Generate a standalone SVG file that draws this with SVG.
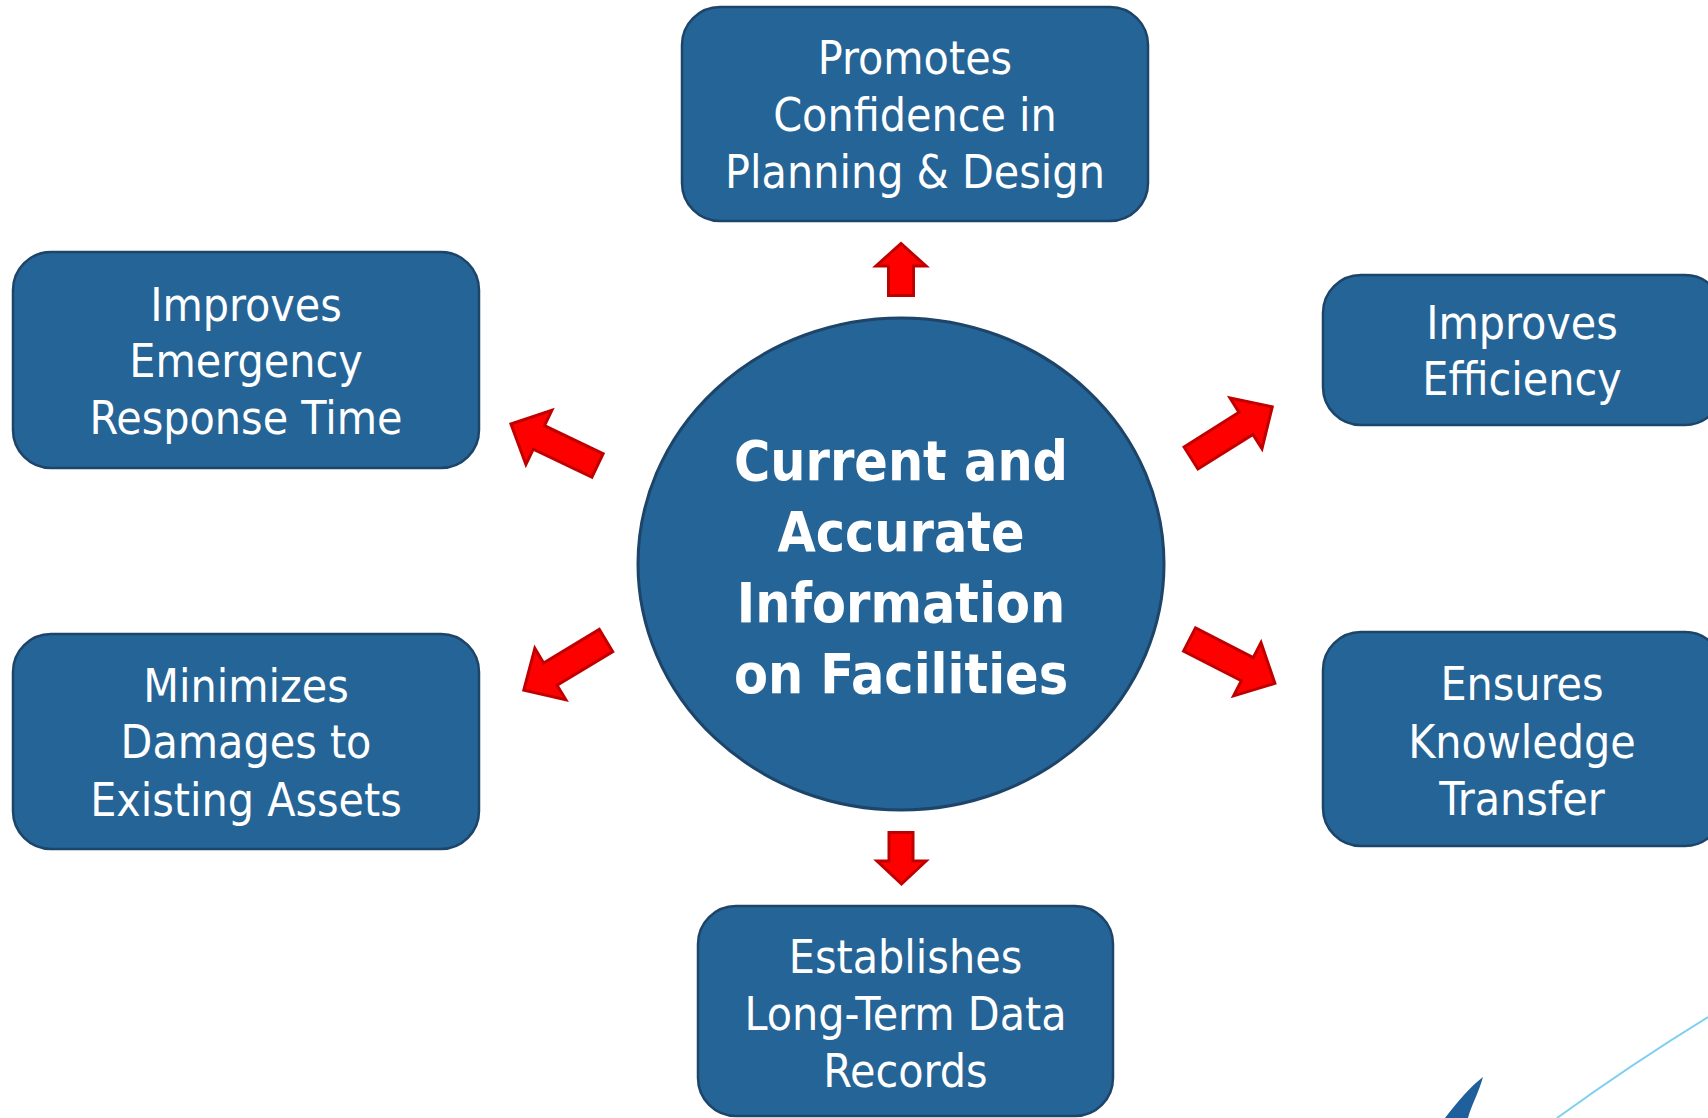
<svg xmlns="http://www.w3.org/2000/svg" width="1708" height="1118" viewBox="0 0 1708 1118">
<style>
.box{fill:#256496;stroke:#1d4469;stroke-width:2.5}
.hub{fill:#256496;stroke:#1d4469;stroke-width:3}
.t{font-family:"DejaVu Sans","Open Sans",sans-serif;font-stretch:condensed;font-size:46px;fill:#ffffff;text-anchor:middle}
.tb{font-family:"DejaVu Sans","Open Sans",sans-serif;font-stretch:condensed;font-weight:bold;font-size:55px;fill:#ffffff;text-anchor:middle}
.arr{fill:#ff0000;stroke:#c00000;stroke-width:3;stroke-linejoin:miter}
</style>
<defs>
<polygon id="darr" points="0,-13 65,-13 65,-30 96,0 65,30 65,13 0,13"/>
</defs>
<rect width="1708" height="1118" fill="#ffffff"/>
<g id="connectors">
<polygon class="arr" points="888.5,295.5 913.5,295.5 913.5,266 926,266 901,243.5 876,266 888.5,266"/>
<polygon class="arr" points="889,832.5 913,832.5 913,861 926,861 901.5,884 877,861 889,861"/>
<use href="#darr" class="arr" transform="translate(597.5,465.5) rotate(205.6)"/>
<use href="#darr" class="arr" transform="translate(1191,458) rotate(-32.2)"/>
<use href="#darr" class="arr" transform="translate(1189.5,639.5) rotate(27.2)"/>
<use href="#darr" class="arr" transform="translate(606,640.5) rotate(148.9)"/>
</g>
<g id="hub">
<ellipse class="hub" cx="901" cy="564" rx="263" ry="246"/>
<text class="tb" x="901" y="480">Current and</text>
<text class="tb" x="901" y="551">Accurate</text>
<text class="tb" x="901" y="622">Information</text>
<text class="tb" x="901" y="693">on Facilities</text>
</g>
<g id="n-top">
<rect class="box" x="682" y="7" width="466" height="214" rx="38"/>
<text class="t" x="915" y="74">Promotes</text>
<text class="t" x="915" y="131">Confidence in</text>
<text class="t" x="915" y="188">Planning &amp; Design</text>
</g>
<g id="n-upper-left">
<rect class="box" x="13" y="252" width="466" height="216" rx="38"/>
<text class="t" x="246" y="321">Improves</text>
<text class="t" x="246" y="377">Emergency</text>
<text class="t" x="246" y="434">Response Time</text>
</g>
<g id="n-lower-left">
<rect class="box" x="13" y="634" width="466" height="215" rx="38"/>
<text class="t" x="246" y="702">Minimizes</text>
<text class="t" x="246" y="758">Damages to</text>
<text class="t" x="246" y="816">Existing Assets</text>
</g>
<g id="n-bottom">
<rect class="box" x="698" y="906" width="415" height="210" rx="38"/>
<text class="t" x="905.5" y="973">Establishes</text>
<text class="t" x="905.5" y="1030">Long-Term Data</text>
<text class="t" x="905.5" y="1087">Records</text>
</g>
<g id="n-upper-right">
<rect class="box" x="1323" y="275" width="400" height="150" rx="38"/>
<text class="t" x="1522" y="339">Improves</text>
<text class="t" x="1522" y="395">Efficiency</text>
</g>
<g id="n-lower-right">
<rect class="box" x="1323" y="632" width="400" height="214" rx="38"/>
<text class="t" x="1522" y="700">Ensures</text>
<text class="t" x="1522" y="758">Knowledge</text>
<text class="t" x="1522" y="815">Transfer</text>
</g>
<g id="decor">
<path d="M1557,1118 Q1630,1065 1708,1017" fill="none" stroke="#7fd0f0" stroke-width="2"/>
<path d="M1483,1077 C1479,1092 1471,1106 1468,1118 L1445,1118 C1458,1101 1471,1086 1483,1077 Z" fill="#1f5f9c"/>
</g>
</svg>
